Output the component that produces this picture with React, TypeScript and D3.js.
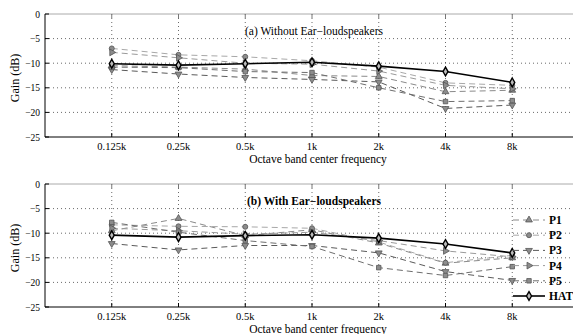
import React from 'react';
import * as d3 from 'd3';

const freqLabels = ['0.125k', '0.25k', '0.5k', '1k', '2k', '4k', '8k'];
const yTicks = [0, -5, -10, -15, -20, -25];

// (a) Without ear-loudspeakers
const p1A = [-10.5, -10.8, -11.2, -12.5, -12.7, -15.8, -15.5];
const p2A = [-7.0, -8.3, -8.7, -9.5, -10.8, -14.0, -14.5];
const p3A = [-11.3, -12.2, -12.9, -13.3, -13.8, -19.2, -18.5];
const p4A = [-7.8, -8.9, -10.0, -10.2, -11.6, -14.5, -15.2];
const p5A = [-10.8, -10.9, -11.7, -11.9, -15.0, -17.8, -17.6];
const hatA = [-10.1, -10.4, -10.1, -9.8, -10.6, -11.7, -13.9];

// (b) With ear-loudspeakers
const p1B = [-9.5, -7.0, -10.5, -9.3, -12.0, -16.1, -15.0];
const p2B = [-8.3, -8.6, -8.7, -9.0, -11.8, -16.0, -14.5];
const p3B = [-12.1, -13.4, -12.5, -12.5, -14.0, -17.8, -19.6];
const p4B = [-9.0, -9.5, -10.2, -9.8, -11.5, -13.6, -14.8];
const p5B = [-7.8, -9.8, -11.5, -12.7, -17.0, -18.6, -16.8];
const hatB = [-10.4, -10.8, -10.5, -10.3, -11.0, -12.2, -14.0];

const seriesNames = ['P1', 'P2', 'P3', 'P4', 'P5', 'HAT'];

const styles = [
  { type: d3.symbolTriangle, rot: 0, stroke: '#8a8a8a' },
  { type: d3.symbolCircle, rot: 0, stroke: '#a8a8a8' },
  { type: d3.symbolTriangle, rot: 180, stroke: '#5a5a5a' },
  { type: d3.symbolTriangle, rot: 90, stroke: '#9a9a9a' },
  { type: d3.symbolSquare, rot: 0, stroke: '#6e6e6e' },
  { type: d3.symbolDiamond, rot: 0, stroke: '#000' },
];

const FONT = '"Liberation Serif", "DejaVu Serif", serif';

const x = d3.scaleLinear().domain([-1, 7]).range([45, 579]);

function Marker({ i, cx, cy }: { i: number; cx: number; cy: number }) {
  const s = styles[i];
  const isHat = i === 5;
  const path = d3.symbol().type(s.type).size(isHat ? 22 : 20)();
  return (
    <path
      d={path || ''}
      transform={`translate(${cx},${cy}) rotate(${s.rot})`}
      fill={isHat ? '#bbb' : '#8c8c8c'}
      stroke={isHat ? '#000' : '#555'}
      strokeWidth={isHat ? 1.4 : 0.8}
    />
  );
}

function Panel({ top, data, title, bold }: { top: number; data: number[][]; title: string; bold: boolean }) {
  const y = d3.scaleLinear().domain([-25, 0]).range([top + 123, top]);
  const line = d3.line<number>().x((_, i) => x(i)).y(d => y(d));
  const left = x(-1);
  const bottom = y(-25);
  return (
    <g>
      {/* grid */}
      {yTicks.filter(t => t !== 0 && t !== -25).map(t => (
        <line key={'gy' + t} x1={left} x2={579} y1={y(t)} y2={y(t)} stroke="#444" strokeWidth={0.8} strokeDasharray="1,3" />
      ))}
      {freqLabels.map((_, i) => (
        <line key={'gx' + i} x1={x(i)} x2={x(i)} y1={top} y2={bottom} stroke="#444" strokeWidth={0.8} strokeDasharray="1,3" />
      ))}
      {/* frame */}
      <line x1={left} x2={579} y1={top} y2={top} stroke="#aaa" strokeWidth={1} />
      <line x1={left} x2={left} y1={top} y2={bottom} stroke="#000" strokeWidth={1} />
      <line x1={left} x2={579} y1={bottom} y2={bottom} stroke="#000" strokeWidth={1} />
      {freqLabels.map((lab, i) => (
        <g key={'xt' + i}>
          <line x1={x(i)} x2={x(i)} y1={bottom} y2={bottom - 4} stroke="#000" />
          <line x1={x(i)} x2={x(i)} y1={top} y2={top + 4} stroke="#777" />
          <text x={x(i)} y={bottom + 13} fontSize={10.5} textAnchor="middle" fontFamily={FONT}>{lab}</text>
        </g>
      ))}
      {yTicks.map(t => (
        <g key={'yt' + t}>
          <line x1={left} x2={left + 4} y1={y(t)} y2={y(t)} stroke="#000" />
          <text x={left - 5} y={y(t) + 3.5} fontSize={9.5} textAnchor="end" fontFamily={FONT}>
            {t === 0 ? '0' : '\u2212' + Math.abs(t)}
          </text>
        </g>
      ))}
      <text
        transform={`translate(19,${top + 64}) rotate(-90)`}
        fontSize={12}
        textAnchor="middle"
        fontFamily={FONT}
      >{'Gain  (dB)'}</text>
      <text x={318} y={bottom + 26} fontSize={11.5} textAnchor="middle" fontFamily={FONT}>Octave band center frequency</text>
      <text x={314} y={top + 21} fontSize={11.5} textAnchor="middle" fontFamily={FONT} fontWeight={bold ? 'bold' : 'normal'}>{title}</text>
      {/* series */}
      {data.slice(0, 5).map((d, k) => (
        <path key={'l' + k} d={line(d) || ''} fill="none" stroke={styles[k].stroke} strokeWidth={1} strokeDasharray="6,4" />
      ))}
      <path d={line(data[5]) || ''} fill="none" stroke="#000" strokeWidth={1.6} />
      {data.map((d, k) => d.map((v, i) => <Marker key={k + '-' + i} i={k} cx={x(i)} cy={y(v)} />))}
    </g>
  );
}

function Legend({ top }: { top: number }) {
  const rows = d3.scalePoint<string>().domain(seriesNames).range([top, top + 76]);
  return (
    <g>
      {seriesNames.map((n, k) => {
        const cy = rows(n) || 0;
        return (
          <g key={n}>
            <line x1={513} x2={545} y1={cy} y2={cy} stroke={k === 5 ? '#000' : styles[k].stroke}
              strokeWidth={k === 5 ? 1.6 : 1} strokeDasharray={k === 5 ? undefined : '6,4'} />
            <Marker i={k} cx={529} cy={cy} />
            <text x={549} y={cy + 4} fontSize={11.5} fontWeight="bold" fontFamily={FONT}>{n}</text>
          </g>
        );
      })}
    </g>
  );
}

export default function App() {
  return (
    <svg width={573} height={334} style={{ position: 'absolute', left: 0, top: 0, background: '#fff' }}>
      <rect width={573} height={334} fill="#fff" />
      <Panel top={14} data={[p1A, p2A, p3A, p4A, p5A, hatA]} title={'(a) Without Ear\u2212loudspeakers'} bold={false} />
      <Panel top={184} data={[p1B, p2B, p3B, p4B, p5B, hatB]} title={'(b) With Ear\u2212loudspeakers'} bold={true} />
      <Legend top={220} />
    </svg>
  );
}
